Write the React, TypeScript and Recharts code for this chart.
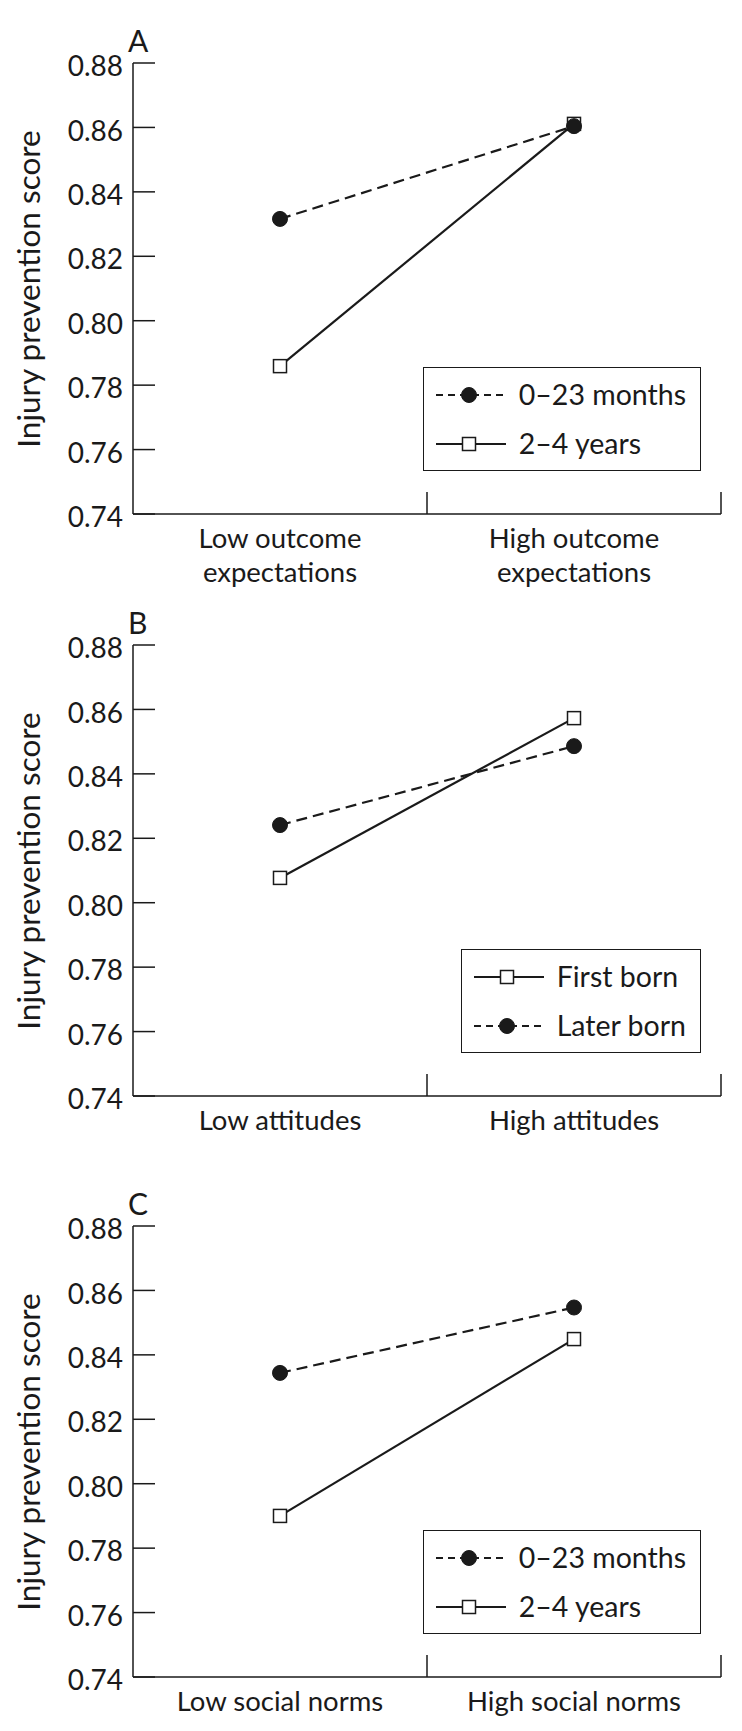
import React from 'react';
import { LineChart, Line, XAxis, YAxis, Legend } from 'recharts';

const FONT = 'Lato, "Noto Sans", sans-serif';
const INK = '#1a1a1a';

// ---- data ----
const yTicks = [0.74, 0.76, 0.78, 0.8, 0.82, 0.84, 0.86, 0.88];

const catsA = [['Low outcome', 'expectations'], ['High outcome', 'expectations']];
const youngA = [0.8316, 0.8604];
const olderA = [0.7859, 0.8611];

const catsB = [['Low attitudes'], ['High attitudes']];
const firstB = [0.8077, 0.8573];
const laterB = [0.8241, 0.8486];

const catsC = [['Low social norms'], ['High social norms']];
const youngC = [0.8344, 0.8547];
const olderC = [0.79, 0.8449];

const labelYoung = '0–23 months';
const labelOlder = '2–4 years';
const labelFirst = 'First born';
const labelLater = 'Later born';
const yTitle = 'Injury prevention score';

type Series = { key: string; name: string; values: number[]; dashed: boolean; marker: 'circle' | 'square' };

const CHART_W = 742;
const CHART_H = 620;
const M_TOP = 63;
const X_H = 106;

function Marker({ cx, cy, kind }: { cx: number; cy: number; kind: string }) {
  if (kind === 'circle') return <circle cx={cx} cy={cy} r={7.5} fill={INK} stroke={INK} strokeWidth={1} />;
  return <rect x={cx - 6.5} y={cy - 6.5} width={13} height={13} fill="#fff" stroke={INK} strokeWidth={1.5} />;
}

function YTick(props: any) {
  const { x, y, payload } = props;
  return (
    <g>
      <line x1={x + 10} x2={x + 32} y1={y} y2={y} stroke={INK} strokeWidth={1.5} />
      <text x={x} y={y + 3} dy="0.36em" textAnchor="end" fontFamily={FONT} fontSize={28} fill={INK}>
        {Number(payload.value).toFixed(2)}
      </text>
    </g>
  );
}

function makeXTick(cats: string[][]) {
  return function XTick(props: any) {
    const { x, y, payload } = props;
    const v = Number(payload.value);
    if (Number.isInteger(v)) {
      if (v === 0) return <g />;
      return <line x1={x} x2={x} y1={y} y2={y - 22} stroke={INK} strokeWidth={1.5} />;
    }
    const lines = cats[Math.floor(v)];
    return (
      <text x={x} y={y} textAnchor="middle" fontFamily={FONT} fontSize={27.5} fill={INK}>
        {lines.map((l, k) => (
          <tspan key={k} x={x} y={y + 34 + 34 * k}>{l}</tspan>
        ))}
      </text>
    );
  };
}

function LegendBox({ items }: { items: Series[] }) {
  return (
    <div
      style={{
        border: `1.5px solid ${INK}`,
        background: '#fff',
        padding: '2px 14px 2px 12px',
        fontFamily: FONT,
        fontSize: 28.5,
        color: INK,
        whiteSpace: 'nowrap',
      }}
    >
      {items.map((s) => (
        <div key={s.key} style={{ display: 'flex', alignItems: 'center', height: 49 }}>
          <svg width={70} height={20} style={{ display: 'block' }}>
            <line x1={0} x2={70} y1={10} y2={10} stroke={INK} strokeWidth={2} strokeDasharray={s.dashed ? '7 5' : undefined} />
            <Marker cx={33} cy={10} kind={s.marker} />
          </svg>
          <span style={{ marginLeft: 13, lineHeight: '49px' }}>{s.name}</span>
        </div>
      ))}
    </div>
  );
}

function Panel({ top, letter, cats, series, legendItems }: { top: number; letter: string; cats: string[][]; series: Series[]; legendItems: Series[] }) {
  const data = cats.map((c, i) => {
    const row: any = { pos: i + 0.5, name: c.join(' ') };
    series.forEach((s) => (row[s.key] = s.values[i]));
    return row;
  });
  const xTicks: number[] = [];
  for (let i = 0; i <= cats.length * 2; i++) xTicks.push(i / 2);
  const XTick = makeXTick(cats);
  const plotCenter = top + M_TOP + (CHART_H - M_TOP - X_H) / 2;
  return (
    <>
      <div style={{ position: 'absolute', left: 0, top, width: CHART_W, height: CHART_H }}>
        <LineChart width={CHART_W} height={CHART_H} data={data} margin={{ top: M_TOP, right: 21, left: 0, bottom: 0 }}>
          <XAxis
            type="number"
            dataKey="pos"
            domain={[0, cats.length]}
            ticks={xTicks}
            interval={0}
            tickLine={false}
            tickSize={0}
            tickMargin={0}
            height={X_H}
            axisLine={{ stroke: INK, strokeWidth: 1.5 }}
            tick={<XTick />}
          />
          <YAxis
            type="number"
            domain={[0.74, 0.88]}
            ticks={yTicks}
            interval={0}
            width={133}
            tickLine={false}
            tickSize={0}
            tickMargin={10}
            axisLine={{ stroke: INK, strokeWidth: 1.5 }}
            tick={<YTick />}
            allowDataOverflow
          />
          <Legend
            layout="horizontal"
            verticalAlign="middle"
            align="center"
            wrapperStyle={{ position: 'absolute', top: 367, right: 41, left: 'auto', bottom: 'auto', width: 'auto', height: 'auto' }}
            content={() => <LegendBox items={legendItems} />}
          />
          {series.map((s) => (
            <Line
              key={s.key}
              type="linear"
              dataKey={s.key}
              name={s.name}
              stroke={INK}
              strokeWidth={2.2}
              strokeDasharray={s.dashed ? '11 6' : undefined}
              isAnimationActive={false}
              activeDot={false}
              dot={(p: any) => <Marker key={`${s.key}-${p.index}`} cx={p.cx} cy={p.cy} kind={s.marker} />}
            />
          ))}
        </LineChart>
      </div>
      <div style={{ position: 'absolute', left: 128, top: top + 25, fontFamily: FONT, fontSize: 30, lineHeight: 1, color: INK }}>{letter}</div>
      <div
        style={{
          position: 'absolute',
          left: 28 - 200,
          top: plotCenter - 16,
          width: 400,
          height: 32,
          textAlign: 'center',
          fontFamily: FONT,
          fontSize: 31.5,
          lineHeight: '32px',
          color: INK,
          transform: 'rotate(-90deg)',
          transformOrigin: 'center',
          whiteSpace: 'nowrap',
        }}
      >
        {yTitle}
      </div>
    </>
  );
}

export default function App() {
  const youngSA: Series = { key: 'young', name: labelYoung, values: youngA, dashed: true, marker: 'circle' };
  const olderSA: Series = { key: 'older', name: labelOlder, values: olderA, dashed: false, marker: 'square' };
  const firstSB: Series = { key: 'first', name: labelFirst, values: firstB, dashed: false, marker: 'square' };
  const laterSB: Series = { key: 'later', name: labelLater, values: laterB, dashed: true, marker: 'circle' };
  const youngSC: Series = { key: 'young', name: labelYoung, values: youngC, dashed: true, marker: 'circle' };
  const olderSC: Series = { key: 'older', name: labelOlder, values: olderC, dashed: false, marker: 'square' };
  return (
    <div style={{ position: 'absolute', left: 0, top: 0, width: 742, height: 1731, overflow: 'hidden', background: '#fff' }}>
      <Panel top={0} letter="A" cats={catsA} series={[olderSA, youngSA]} legendItems={[youngSA, olderSA]} />
      <Panel top={582} letter="B" cats={catsB} series={[firstSB, laterSB]} legendItems={[firstSB, laterSB]} />
      <Panel top={1163} letter="C" cats={catsC} series={[olderSC, youngSC]} legendItems={[youngSC, olderSC]} />
    </div>
  );
}
